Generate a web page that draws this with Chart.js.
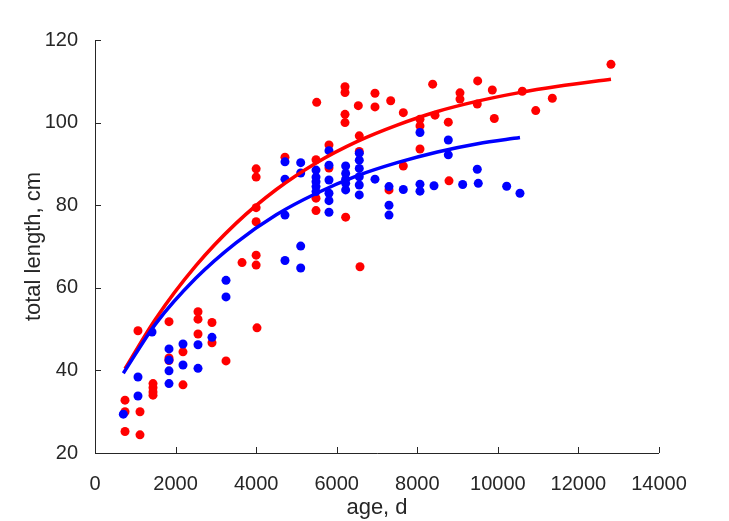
<!DOCTYPE html>
<html>
<head>
<meta charset="utf-8">
<script src="https://cdn.jsdelivr.net/npm/chart.js@4"></script>
<style>
  body { margin: 0; background: #fff; }
  canvas { display: block; }
</style>
</head>
<body>
<canvas id="chart" width="729" height="521"></canvas>
<script>
// observed points (age in days, total length in cm)
const redAge = [745, 745, 745, 1067, 1117, 1117, 1440, 1440, 1440, 1440, 1837, 1837, 1837, 2184, 2184,
  2557, 2557, 2557, 2904, 2904, 3252, 4021, 3650, 4000, 4000, 4000, 4000, 4000, 4000, 4716,
  5486, 5503, 5486, 5486, 5808, 5808, 6206, 6206, 6206, 6206, 6222, 6536, 6560, 6560, 6578,
  6950, 6950, 7340, 7298, 7653, 7653, 8067, 8067, 8067, 8382, 8440, 8770, 8787, 9060, 9060,
  9499, 9489, 9862, 9912, 10607, 10940, 11352, 12808];
const redLength = [32.8, 25.2, 30.0, 49.6, 30.0, 24.4, 36.8, 35.8, 34.8, 34.0, 51.8, 43.0, 42.4, 44.5, 36.5,
  54.2, 52.4, 48.8, 51.6, 46.7, 42.3, 50.3, 66.1, 88.8, 86.8, 79.4, 76.0, 67.9, 65.5, 91.6,
  91.0, 104.9, 81.7, 78.7, 94.6, 89.0, 108.7, 107.3, 102.0, 100.0, 77.1, 104.1, 96.8, 93.0, 65.1,
  107.1, 103.8, 105.3, 83.7, 102.4, 89.5, 100.8, 99.2, 93.6, 109.3, 101.8, 100.1, 85.9, 107.2, 105.7,
  110.1, 104.5, 107.9, 101.0, 107.6, 102.9, 105.9, 114.1];

const blueAge = [703, 1067, 1067, 1415, 1837, 1837, 1837, 1837, 2184, 2184, 2557, 2557, 2904, 3252, 3252,
  4716, 4716, 4716, 4716, 5106, 5106, 5106, 5106, 5486, 5486, 5486, 5486, 5486,
  5808, 5808, 5808, 5808, 5808, 5808, 6222, 6222, 6222, 6222, 6222,
  6560, 6560, 6560, 6560, 6560, 6560, 6950, 7298, 7298, 7298, 7653, 8067, 8067, 8067,
  8415, 8770, 8770, 9127, 9489, 9514, 10219, 10549];
const blueLength = [29.4, 38.4, 33.8, 49.3, 45.2, 42.5, 39.9, 36.8, 46.4, 41.3, 46.2, 40.5, 48.0, 61.8, 57.8,
  90.5, 86.3, 77.6, 66.6, 90.3, 87.8, 70.1, 64.8, 88.5, 86.8, 85.7, 84.5, 83.3,
  93.2, 89.7, 86.1, 82.9, 81.1, 78.3, 89.5, 87.7, 86.3, 85.3, 83.7,
  92.6, 90.9, 88.9, 86.9, 84.9, 82.5, 86.3, 84.5, 80.0, 77.6, 83.8, 97.6, 85.1, 83.4,
  84.7, 95.8, 92.2, 85.0, 88.7, 85.3, 84.6, 82.9];

// fitted growth curves
const redFitAge = [745, 1500, 2500, 3500, 4500, 5500, 6500, 7500, 8500, 9500, 10500, 11500, 12808];
const redFitLength = [40.4, 52.4, 65.3, 75.6, 83.8, 90.3, 95.4, 99.4, 102.7, 105.2, 107.2, 108.8, 110.5];
const blueFitAge = [703, 1500, 2500, 3500, 4500, 5500, 6500, 7500, 8500, 9500, 10549];
const blueFitLength = [39.3, 51.2, 62.3, 70.9, 77.7, 82.9, 87.1, 90.3, 92.9, 94.9, 96.4];

const xTicks = [0, 2000, 4000, 6000, 8000, 10000, 12000, 14000];
const yTicks = [20, 40, 60, 80, 100, 120];

const pts = (xs, ys) => xs.map((x, i) => ({ x: x, y: ys[i] }));
const axisColor = '#262626';

// MATLAB style ticks pointing into the plot
const inwardTicks = {
  id: 'inwardTicks',
  afterDatasetsDraw(chart) {
    const ctx = chart.ctx;
    const a = chart.chartArea;
    const xs = chart.scales.x, ys = chart.scales.y;
    ctx.save();
    ctx.strokeStyle = axisColor;
    ctx.lineWidth = 1;
    ctx.beginPath();
    ctx.moveTo(a.left + 0.5, a.top);
    ctx.lineTo(a.left + 0.5, a.bottom + 0.5);
    ctx.lineTo(a.right, a.bottom + 0.5);
    xTicks.forEach(v => {
      const px = Math.round(xs.getPixelForValue(v)) + 0.5;
      ctx.moveTo(px, a.bottom);
      ctx.lineTo(px, a.bottom - 6);
    });
    yTicks.forEach(v => {
      const py = Math.round(ys.getPixelForValue(v)) + 0.5;
      ctx.moveTo(a.left, py);
      ctx.lineTo(a.left + 6, py);
    });
    ctx.stroke();
    ctx.restore();
  }
};

new Chart(document.getElementById('chart'), {
  type: 'scatter',
  data: {
    datasets: [
      { data: pts(redAge, redLength), backgroundColor: '#ff0000', borderWidth: 0, pointRadius: 4.5, order: 4 },
      { data: pts(blueAge, blueLength), backgroundColor: '#0000ff', borderWidth: 0, pointRadius: 4.5, order: 3 },
      { type: 'line', data: pts(redFitAge, redFitLength), borderColor: '#ff0000', borderWidth: 3.5,
        pointRadius: 0, fill: false, cubicInterpolationMode: 'monotone', order: 2 },
      { type: 'line', data: pts(blueFitAge, blueFitLength), borderColor: '#0000ff', borderWidth: 3.5,
        pointRadius: 0, fill: false, cubicInterpolationMode: 'monotone', order: 1 }
    ]
  },
  options: {
    responsive: false,
    animation: false,
    layout: { padding: { top: 40, right: 70, left: 0, bottom: 0 } },
    plugins: { legend: { display: false }, tooltip: { enabled: false } },
    scales: {
      x: {
        type: 'linear', min: 0, max: 14000,
        afterBuildTicks: s => { s.ticks = xTicks.map(v => ({ value: v })); },
        afterFit: s => { s.height = 68; },
        grid: { display: false },
        border: { display: false },
        ticks: { color: axisColor, padding: 11, maxRotation: 0, callback: v => String(v),
          font: { family: 'Liberation Sans', size: 20 } },
        title: { display: true, text: 'age, d', color: axisColor, padding: { bottom: 0 },
          font: { family: 'Liberation Sans', size: 22 } }
      },
      y: {
        type: 'linear', min: 20, max: 120,
        afterBuildTicks: s => { s.ticks = yTicks.map(v => ({ value: v })); },
        afterFit: s => { s.width = 95; },
        grid: { display: false },
        border: { display: false },
        ticks: { color: axisColor, padding: 9, callback: v => String(v),
          font: { family: 'Liberation Sans', size: 20 } },
        title: { display: true, text: 'total length, cm', color: axisColor, padding: { top: 21 },
          font: { family: 'Liberation Sans', size: 22 } }
      }
    }
  },
  plugins: [inwardTicks]
});
</script>
</body>
</html>
